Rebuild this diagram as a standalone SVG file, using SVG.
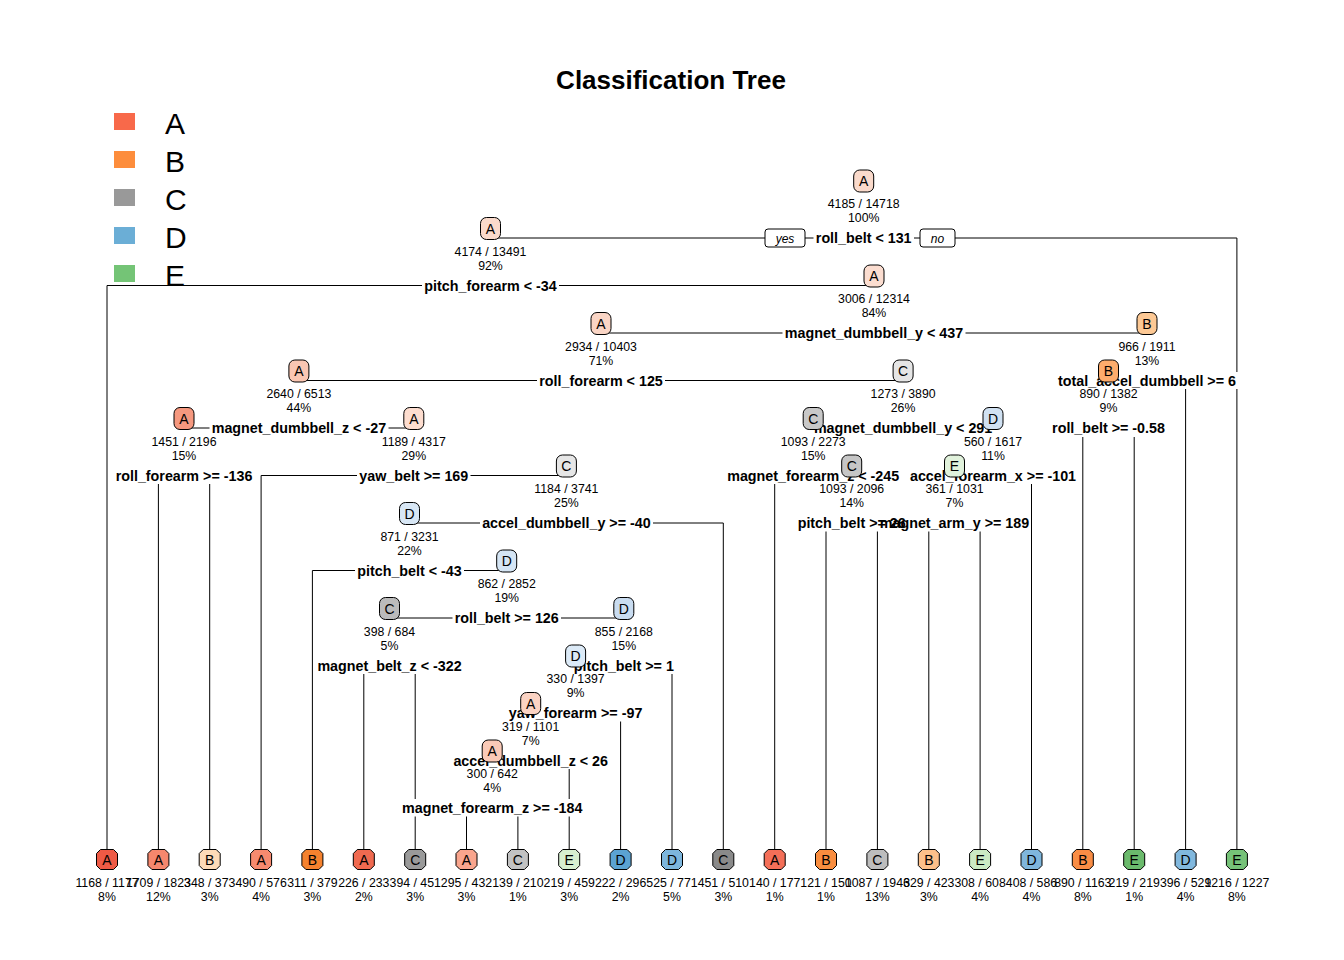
<svg xmlns="http://www.w3.org/2000/svg" xmlns:xlink="http://www.w3.org/1999/xlink" width="1344" height="960" viewBox="0 0 1344 960">
<style>
.ln{stroke:#000;stroke-width:1;fill:none}
.sp{font-family:"Liberation Sans",Arial,sans-serif;font-weight:bold;font-size:14.3px;text-anchor:middle;fill:#000}
.ct{font-family:"Liberation Sans",Arial,sans-serif;font-size:12.3px;text-anchor:middle;fill:#000}
.nl{font-family:"Liberation Sans",Arial,sans-serif;font-size:14px;text-anchor:middle;fill:#000}
.bx{stroke:#000;stroke-width:1}
.yn{font-family:"Liberation Sans",Arial,sans-serif;font-style:italic;font-size:12px;text-anchor:middle;fill:#000}
.lg{font-family:"Liberation Sans",Arial,sans-serif;font-size:30px;fill:#000}
.tt{font-family:"Liberation Sans",Arial,sans-serif;font-weight:bold;font-size:26px;text-anchor:middle;fill:#000}
</style>
<defs>
<path id="leaf" d="M-6.5,-10 H6.5 L10.5,-6 V6 L6.5,10 H-6.5 L-10.5,6 V-6 Z" stroke="#000" stroke-width="1"/>
<rect id="inode" x="-10" y="-11" width="20" height="22" rx="6" stroke="#000" stroke-width="1"/>
</defs>
<rect width="1344" height="960" fill="#fff"/>
<text class="tt" x="671" y="89">Classification Tree</text>
<g id="legend">
<rect x="114" y="113" width="21" height="17" fill="#F8694A"/>
<rect x="114" y="151" width="21" height="17" fill="#FD8D3C"/>
<rect x="114" y="189" width="21" height="17" fill="#999999"/>
<rect x="114" y="227" width="21" height="17" fill="#6BAED6"/>
<rect x="114" y="265" width="21" height="17" fill="#74C476"/>
<text class="lg" x="165" y="134">A</text>
<text class="lg" x="165" y="172">B</text>
<text class="lg" x="165" y="210">C</text>
<text class="lg" x="165" y="248">D</text>
<text class="lg" x="165" y="286">E</text>
</g>
<g id="connectors" class="ln">
<path d="M490.5,238 H813.5 M914,238 H1236.9 V372 M1236.9,389 V849"/>
<path d="M107,849 V285.5 H422 M559,285.5 H874"/>
<path d="M601,333 H782.5 M965.5,333 H1147"/>
<path d="M298.9,380.5 H537 M665,380.5 H903.1 M1185.6,389 V849"/>
<path d="M184,428 H209.5 M388.5,428 H413.8 M1082.8,437 V849 M1134.2,437 V849"/>
<path d="M158.4,484 V849 M209.7,484 V849 M261.1,849 V475.5 H357 M470.5,475.5 H566.4 M774.7,484 V849 M1031.5,484 V849"/>
<path d="M409.5,523 H480 M653,523 H723.3 V849 M826,531.5 V849 M877.4,531.5 V849 M928.8,531.5 V849 M980.1,531.5 V849"/>
<path d="M312.4,849 V570.5 H355 M464,570.5 H506.7"/>
<path d="M389.5,618 H452.5 M561,618 H623.8"/>
<path d="M363.8,674 V849 M415.2,674 V799 M415.2,816.5 V849 M672,674 V849"/>
<path d="M620.6,721.5 V849 M569.2,769 V799 M569.2,816.5 V849 M466.5,816.5 V849 M517.9,816.5 V849"/>
</g>
<g id="n1">
<rect x="765" y="229" width="40" height="18" rx="3" fill="#fff" stroke="#000"/>
<text class="yn" x="785" y="243">yes</text>
<rect x="920" y="229" width="35" height="18" rx="3" fill="#fff" stroke="#000"/>
<text class="yn" x="937.5" y="243">no</text>
<text class="sp" x="863.7" y="243">roll_belt &lt; 131</text>
<use href="#inode" x="863.7" y="181" fill="#FADACB"/>
<text class="nl" x="863.7" y="186">A</text>
<text class="ct" x="863.7" y="208">4185 / 14718</text>
<text class="ct" x="863.7" y="222">100%</text>
</g>
<g id="n2">
<text class="sp" x="490.5" y="290.5">pitch_forearm &lt; -34</text>
<use href="#inode" x="490.5" y="228.5" fill="#FADACB"/>
<text class="nl" x="490.5" y="233.5">A</text>
<text class="ct" x="490.5" y="255.5">4174 / 13491</text>
<text class="ct" x="490.5" y="269.5">92%</text>
</g>
<g id="n3">
<text class="sp" x="874" y="338">magnet_dumbbell_y &lt; 437</text>
<use href="#inode" x="874" y="276" fill="#FBDDD0"/>
<text class="nl" x="874" y="281">A</text>
<text class="ct" x="874" y="303">3006 / 12314</text>
<text class="ct" x="874" y="317">84%</text>
</g>
<g id="n4">
<text class="sp" x="601" y="385.5">roll_forearm &lt; 125</text>
<use href="#inode" x="601" y="323.5" fill="#FAD5C5"/>
<text class="nl" x="601" y="328.5">A</text>
<text class="ct" x="601" y="350.5">2934 / 10403</text>
<text class="ct" x="601" y="364.5">71%</text>
</g>
<g id="n5">
<text class="sp" x="1147" y="385.5">total_accel_dumbbell &gt;= 6</text>
<use href="#inode" x="1147" y="323.5" fill="#FDC995"/>
<text class="nl" x="1147" y="328.5">B</text>
<text class="ct" x="1147" y="350.5">966 / 1911</text>
<text class="ct" x="1147" y="364.5">13%</text>
</g>
<g id="n6">
<text class="sp" x="298.9" y="433">magnet_dumbbell_z &lt; -27</text>
<use href="#inode" x="298.9" y="371" fill="#FAC6B2"/>
<text class="nl" x="298.9" y="376">A</text>
<text class="ct" x="298.9" y="398">2640 / 6513</text>
<text class="ct" x="298.9" y="412">44%</text>
</g>
<g id="n7">
<text class="sp" x="903.1" y="433">magnet_dumbbell_y &lt; 291</text>
<use href="#inode" x="903.1" y="371" fill="#E5E5E5"/>
<text class="nl" x="903.1" y="376">C</text>
<text class="ct" x="903.1" y="398">1273 / 3890</text>
<text class="ct" x="903.1" y="412">26%</text>
</g>
<g id="n8">
<text class="sp" x="1108.5" y="433">roll_belt &gt;= -0.58</text>
<use href="#inode" x="1108.5" y="371" fill="#FDAC6C"/>
<text class="nl" x="1108.5" y="376">B</text>
<text class="ct" x="1108.5" y="398">890 / 1382</text>
<text class="ct" x="1108.5" y="412">9%</text>
</g>
<g id="n9">
<text class="sp" x="184" y="480.5">roll_forearm &gt;= -136</text>
<use href="#inode" x="184" y="418.5" fill="#F5987F"/>
<text class="nl" x="184" y="423.5">A</text>
<text class="ct" x="184" y="445.5">1451 / 2196</text>
<text class="ct" x="184" y="459.5">15%</text>
</g>
<g id="n10">
<text class="sp" x="413.8" y="480.5">yaw_belt &gt;= 169</text>
<use href="#inode" x="413.8" y="418.5" fill="#FDDDCF"/>
<text class="nl" x="413.8" y="423.5">A</text>
<text class="ct" x="413.8" y="445.5">1189 / 4317</text>
<text class="ct" x="413.8" y="459.5">29%</text>
</g>
<g id="n11">
<text class="sp" x="813.2" y="480.5">magnet_forearm_z &lt; -245</text>
<use href="#inode" x="813.2" y="418.5" fill="#C8C8C8"/>
<text class="nl" x="813.2" y="423.5">C</text>
<text class="ct" x="813.2" y="445.5">1093 / 2273</text>
<text class="ct" x="813.2" y="459.5">15%</text>
</g>
<g id="n12">
<text class="sp" x="993" y="480.5">accel_forearm_x &gt;= -101</text>
<use href="#inode" x="993" y="418.5" fill="#D0E1F2"/>
<text class="nl" x="993" y="423.5">D</text>
<text class="ct" x="993" y="445.5">560 / 1617</text>
<text class="ct" x="993" y="459.5">11%</text>
</g>
<g id="n13">
<text class="sp" x="566.4" y="528">accel_dumbbell_y &gt;= -40</text>
<use href="#inode" x="566.4" y="466" fill="#E6E6E6"/>
<text class="nl" x="566.4" y="471">C</text>
<text class="ct" x="566.4" y="493">1184 / 3741</text>
<text class="ct" x="566.4" y="507">25%</text>
</g>
<g id="n14">
<text class="sp" x="851.7" y="528">pitch_belt &gt;= 26</text>
<use href="#inode" x="851.7" y="466" fill="#C6C6C6"/>
<text class="nl" x="851.7" y="471">C</text>
<text class="ct" x="851.7" y="493">1093 / 2096</text>
<text class="ct" x="851.7" y="507">14%</text>
</g>
<g id="n15">
<text class="sp" x="954.5" y="528">magnet_arm_y &gt;= 189</text>
<use href="#inode" x="954.5" y="466" fill="#E1F2DC"/>
<text class="nl" x="954.5" y="471">E</text>
<text class="ct" x="954.5" y="493">361 / 1031</text>
<text class="ct" x="954.5" y="507">7%</text>
</g>
<g id="n16">
<text class="sp" x="409.5" y="575.5">pitch_belt &lt; -43</text>
<use href="#inode" x="409.5" y="513.5" fill="#D8E7F5"/>
<text class="nl" x="409.5" y="518.5">D</text>
<text class="ct" x="409.5" y="540.5">871 / 3231</text>
<text class="ct" x="409.5" y="554.5">22%</text>
</g>
<g id="n17">
<text class="sp" x="506.7" y="623">roll_belt &gt;= 126</text>
<use href="#inode" x="506.7" y="561" fill="#D5E5F4"/>
<text class="nl" x="506.7" y="566">D</text>
<text class="ct" x="506.7" y="588">862 / 2852</text>
<text class="ct" x="506.7" y="602">19%</text>
</g>
<g id="n18">
<text class="sp" x="389.5" y="670.5">magnet_belt_z &lt; -322</text>
<use href="#inode" x="389.5" y="608.5" fill="#BBBBBB"/>
<text class="nl" x="389.5" y="613.5">C</text>
<text class="ct" x="389.5" y="635.5">398 / 684</text>
<text class="ct" x="389.5" y="649.5">5%</text>
</g>
<g id="n19">
<text class="sp" x="623.8" y="670.5">pitch_belt &gt;= 1</text>
<use href="#inode" x="623.8" y="608.5" fill="#C9DCF0"/>
<text class="nl" x="623.8" y="613.5">D</text>
<text class="ct" x="623.8" y="635.5">855 / 2168</text>
<text class="ct" x="623.8" y="649.5">15%</text>
</g>
<g id="n20">
<text class="sp" x="575.6" y="718">yaw_forearm &gt;= -97</text>
<use href="#inode" x="575.6" y="656" fill="#DCEAF7"/>
<text class="nl" x="575.6" y="661">D</text>
<text class="ct" x="575.6" y="683">330 / 1397</text>
<text class="ct" x="575.6" y="697">9%</text>
</g>
<g id="n21">
<text class="sp" x="530.7" y="765.5">accel_dumbbell_z &lt; 26</text>
<use href="#inode" x="530.7" y="703.5" fill="#FBD3C3"/>
<text class="nl" x="530.7" y="708.5">A</text>
<text class="ct" x="530.7" y="730.5">319 / 1101</text>
<text class="ct" x="530.7" y="744.5">7%</text>
</g>
<g id="n22">
<text class="sp" x="492.2" y="813">magnet_forearm_z &gt;= -184</text>
<use href="#inode" x="492.2" y="751" fill="#FACAB7"/>
<text class="nl" x="492.2" y="756">A</text>
<text class="ct" x="492.2" y="778">300 / 642</text>
<text class="ct" x="492.2" y="792">4%</text>
</g>
<g id="leaf1"><use href="#leaf" x="107" y="859.5" fill="#EE5A45"/><text class="nl" x="107" y="864.5">A</text><text class="ct" x="107" y="886.5">1168 / 1177</text><text class="ct" x="107" y="900.5">8%</text></g>
<g id="leaf2"><use href="#leaf" x="158.4" y="859.5" fill="#F5876D"/><text class="nl" x="158.4" y="864.5">A</text><text class="ct" x="158.4" y="886.5">1709 / 1823</text><text class="ct" x="158.4" y="900.5">12%</text></g>
<g id="leaf3"><use href="#leaf" x="209.7" y="859.5" fill="#FDDBB8"/><text class="nl" x="209.7" y="864.5">B</text><text class="ct" x="209.7" y="886.5">348 / 373</text><text class="ct" x="209.7" y="900.5">3%</text></g>
<g id="leaf4"><use href="#leaf" x="261.1" y="859.5" fill="#F68A6F"/><text class="nl" x="261.1" y="864.5">A</text><text class="ct" x="261.1" y="886.5">490 / 576</text><text class="ct" x="261.1" y="900.5">4%</text></g>
<g id="leaf5"><use href="#leaf" x="312.4" y="859.5" fill="#F5822E"/><text class="nl" x="312.4" y="864.5">B</text><text class="ct" x="312.4" y="886.5">311 / 379</text><text class="ct" x="312.4" y="900.5">3%</text></g>
<g id="leaf6"><use href="#leaf" x="363.8" y="859.5" fill="#F06A50"/><text class="nl" x="363.8" y="864.5">A</text><text class="ct" x="363.8" y="886.5">226 / 233</text><text class="ct" x="363.8" y="900.5">2%</text></g>
<g id="leaf7"><use href="#leaf" x="415.2" y="859.5" fill="#9A9A9A"/><text class="nl" x="415.2" y="864.5">C</text><text class="ct" x="415.2" y="886.5">394 / 451</text><text class="ct" x="415.2" y="900.5">3%</text></g>
<g id="leaf8"><use href="#leaf" x="466.5" y="859.5" fill="#F9A58D"/><text class="nl" x="466.5" y="864.5">A</text><text class="ct" x="466.5" y="886.5">295 / 432</text><text class="ct" x="466.5" y="900.5">3%</text></g>
<g id="leaf9"><use href="#leaf" x="517.9" y="859.5" fill="#C2C2C2"/><text class="nl" x="517.9" y="864.5">C</text><text class="ct" x="517.9" y="886.5">139 / 210</text><text class="ct" x="517.9" y="900.5">1%</text></g>
<g id="leaf10"><use href="#leaf" x="569.2" y="859.5" fill="#D7EFD0"/><text class="nl" x="569.2" y="864.5">E</text><text class="ct" x="569.2" y="886.5">219 / 459</text><text class="ct" x="569.2" y="900.5">3%</text></g>
<g id="leaf11"><use href="#leaf" x="620.6" y="859.5" fill="#5BA3D2"/><text class="nl" x="620.6" y="864.5">D</text><text class="ct" x="620.6" y="886.5">222 / 296</text><text class="ct" x="620.6" y="900.5">2%</text></g>
<g id="leaf12"><use href="#leaf" x="672" y="859.5" fill="#7DB6DD"/><text class="nl" x="672" y="864.5">D</text><text class="ct" x="672" y="886.5">525 / 771</text><text class="ct" x="672" y="900.5">5%</text></g>
<g id="leaf13"><use href="#leaf" x="723.3" y="859.5" fill="#8A8A8A"/><text class="nl" x="723.3" y="864.5">C</text><text class="ct" x="723.3" y="886.5">451 / 510</text><text class="ct" x="723.3" y="900.5">3%</text></g>
<g id="leaf14"><use href="#leaf" x="774.7" y="859.5" fill="#F46F58"/><text class="nl" x="774.7" y="864.5">A</text><text class="ct" x="774.7" y="886.5">140 / 177</text><text class="ct" x="774.7" y="900.5">1%</text></g>
<g id="leaf15"><use href="#leaf" x="826" y="859.5" fill="#F98D3F"/><text class="nl" x="826" y="864.5">B</text><text class="ct" x="826" y="886.5">121 / 150</text><text class="ct" x="826" y="900.5">1%</text></g>
<g id="leaf16"><use href="#leaf" x="877.4" y="859.5" fill="#BDBDBD"/><text class="nl" x="877.4" y="864.5">C</text><text class="ct" x="877.4" y="886.5">1087 / 1946</text><text class="ct" x="877.4" y="900.5">13%</text></g>
<g id="leaf17"><use href="#leaf" x="928.8" y="859.5" fill="#FDC08A"/><text class="nl" x="928.8" y="864.5">B</text><text class="ct" x="928.8" y="886.5">329 / 423</text><text class="ct" x="928.8" y="900.5">3%</text></g>
<g id="leaf18"><use href="#leaf" x="980.1" y="859.5" fill="#CBEAC3"/><text class="nl" x="980.1" y="864.5">E</text><text class="ct" x="980.1" y="886.5">308 / 608</text><text class="ct" x="980.1" y="900.5">4%</text></g>
<g id="leaf19"><use href="#leaf" x="1031.5" y="859.5" fill="#7FB6DC"/><text class="nl" x="1031.5" y="864.5">D</text><text class="ct" x="1031.5" y="886.5">408 / 586</text><text class="ct" x="1031.5" y="900.5">4%</text></g>
<g id="leaf20"><use href="#leaf" x="1082.8" y="859.5" fill="#F98D45"/><text class="nl" x="1082.8" y="864.5">B</text><text class="ct" x="1082.8" y="886.5">890 / 1163</text><text class="ct" x="1082.8" y="900.5">8%</text></g>
<g id="leaf21"><use href="#leaf" x="1134.2" y="859.5" fill="#6BBA6C"/><text class="nl" x="1134.2" y="864.5">E</text><text class="ct" x="1134.2" y="886.5">219 / 219</text><text class="ct" x="1134.2" y="900.5">1%</text></g>
<g id="leaf22"><use href="#leaf" x="1185.6" y="859.5" fill="#81B8DE"/><text class="nl" x="1185.6" y="864.5">D</text><text class="ct" x="1185.6" y="886.5">396 / 529</text><text class="ct" x="1185.6" y="900.5">4%</text></g>
<g id="leaf23"><use href="#leaf" x="1236.9" y="859.5" fill="#76C278"/><text class="nl" x="1236.9" y="864.5">E</text><text class="ct" x="1236.9" y="886.5">1216 / 1227</text><text class="ct" x="1236.9" y="900.5">8%</text></g>
</svg>
